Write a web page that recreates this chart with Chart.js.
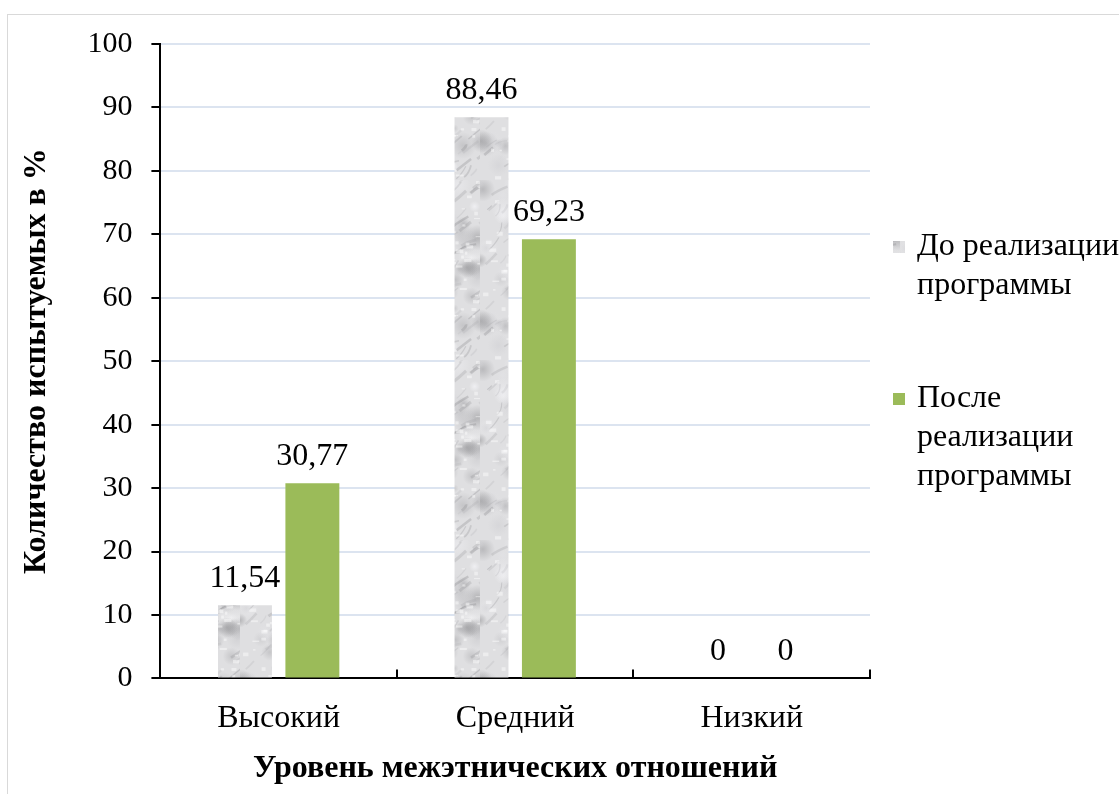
<!DOCTYPE html>
<html>
<head>
<meta charset="utf-8">
<script src="https://cdn.jsdelivr.net/npm/chart.js@4.4.1/dist/chart.umd.min.js"></script>
<style>
  html, body { margin: 0; padding: 0; background: #fff; }
  #frame { position: absolute; left: 7px; top: 14px; width: 1200px; height: 900px; border: 1px solid #d9d9d9; }
  #wrap { position: absolute; left: 0; top: 0; width: 1119px; height: 794px; }
</style>
</head>
<body>
<div id="frame"></div>
<div id="wrap"><canvas id="chart"></canvas></div>
<script>
// Данные
const categories = ['Высокий', 'Средний', 'Низкий'];
const seriesNames = [['До реализации', 'программы'], ['После', 'реализации', 'программы']];
const beforeValues = [11.54, 88.46, 0];
const afterValues = [30.77, 69.23, 0];
const yTicks = [0, 10, 20, 30, 40, 50, 60, 70, 80, 90, 100];

const FONT = '"Liberation Serif", "Times New Roman", serif';
const GREEN = '#9bbb59';

// Мраморная текстура для первой серии (декоративная)
function makeMarble() {
  const c = document.createElement('canvas');
  c.width = 60; c.height = 180;
  const g = c.getContext('2d');
  g.fillStyle = '#dfdfe1';
  g.fillRect(0, 0, c.width, c.height);
  let s = 11;
  const rnd = () => { s = (s * 16807) % 2147483647; return s / 2147483647; };
  // мягкие пятна
  for (let i = 0; i < 45; i++) {
    const x = rnd() * 60, y = rnd() * 180, r = 4 + rnd() * 10;
    const shade = 150 + Math.floor(rnd() * 105);
    const grd = g.createRadialGradient(x, y, 0, x, y, r);
    grd.addColorStop(0, 'rgba(' + shade + ',' + shade + ',' + (shade + 3) + ',0.6)');
    grd.addColorStop(1, 'rgba(' + shade + ',' + shade + ',' + (shade + 3) + ',0)');
    g.fillStyle = grd;
    g.fillRect(x - r, y - r, r * 2, r * 2);
  }
  // прожилки
  for (let i = 0; i < 50; i++) {
    const x = rnd() * 60, y = rnd() * 180;
    const shade = 110 + Math.floor(rnd() * 80);
    g.strokeStyle = 'rgba(' + shade + ',' + shade + ',' + (shade + 4) + ',0.25)';
    g.lineWidth = 1 + rnd() * 2;
    g.beginPath();
    g.moveTo(x, y);
    g.quadraticCurveTo(x + 5, y - 4, x + 12 * rnd() + 4, y - 10 * rnd() - 3);
    g.stroke();
  }
  for (let i = 0; i < 50; i++) {
    g.fillStyle = 'rgba(255,255,255,0.45)';
    g.fillRect(rnd() * 60, rnd() * 180, 2 + rnd() * 6, 1 + rnd() * 3);
  }
  return c;
}

const ctx = document.getElementById('chart').getContext('2d');
const marble = ctx.createPattern(makeMarble(), 'repeat');

// Подписи значений над столбцами
const valueLabels = {
  id: 'valueLabels',
  afterDatasetsDraw(chart) {
    const c = chart.ctx;
    c.save();
    c.font = '32px ' + FONT;
    c.fillStyle = '#000';
    c.textAlign = 'center';
    c.textBaseline = 'middle';
    chart.data.datasets.forEach((ds, i) => {
      chart.getDatasetMeta(i).data.forEach((bar, j) => {
        const txt = String(ds.data[j]).replace('.', ',');
        c.fillText(txt, bar.x, bar.y - 27);
      });
    });
    c.restore();
  }
};

// Засечки оси X между категориями и легенда справа
const extras = {
  id: 'extras',
  afterDraw(chart) {
    const c = chart.ctx;
    const area = chart.chartArea;
    c.save();
    c.strokeStyle = '#000';
    c.lineWidth = 2;
    const step = (area.right - area.left) / categories.length;
    for (let i = 0; i <= categories.length; i++) {
      const px = Math.round(area.left + step * i);
      c.beginPath();
      c.moveTo(px, area.bottom);
      c.lineTo(px, area.bottom - 9);
      c.stroke();
    }
    // легенда
    c.font = '32px ' + FONT;
    c.textAlign = 'left';
    c.textBaseline = 'middle';
    const items = [{ y: 247, fill: marble }, { y: 399, fill: GREEN }];
    items.forEach((it, i) => {
      c.fillStyle = it.fill;
      c.fillRect(893, it.y - 6, 12, 12);
      c.fillStyle = '#000';
      seriesNames[i].forEach((line, k) => {
        c.fillText(line, 917, it.y + k * 39);
      });
    });
    c.restore();
  }
};

new Chart(ctx, {
  type: 'bar',
  data: {
    labels: categories,
    datasets: [
      { label: seriesNames[0].join(' '), data: beforeValues, backgroundColor: marble },
      { label: seriesNames[1].join(' '), data: afterValues, backgroundColor: GREEN }
    ]
  },
  options: {
    responsive: true,
    maintainAspectRatio: false,
    animation: false,
    categoryPercentage: 0.57,
    barPercentage: 0.8,
    layout: { padding: { left: 18, right: 249, top: 44, bottom: 8 } },
    plugins: {
      legend: { display: false },
      tooltip: { enabled: false }
    },
    scales: {
      x: {
        grid: { display: false },
        border: { color: '#000', width: 2 },
        ticks: { color: '#000', font: { family: FONT, size: 32 }, padding: 13 },
        title: {
          display: true,
          text: 'Уровень межэтнических отношений',
          color: '#000',
          font: { family: FONT, size: 32, weight: 'bold', lineHeight: 1.1 },
          padding: { top: 0, bottom: 0 }
        }
      },
      y: {
        min: 0,
        max: 100,
        afterBuildTicks: axis => { axis.ticks = yTicks.map(v => ({ value: v })); },
        grid: { color: '#dce4f0', lineWidth: 2, tickColor: '#000', tickLength: 9 },
        border: { color: '#000', width: 2 },
        ticks: { color: '#000', font: { family: FONT, size: 30 }, padding: 19 },
        title: {
          display: true,
          text: 'Количество испытуемых в %',
          color: '#000',
          font: { family: FONT, size: 32, weight: 'bold' },
          padding: { top: 0, bottom: 12 }
        }
      }
    }
  },
  plugins: [valueLabels, extras]
});
</script>
</body>
</html>
